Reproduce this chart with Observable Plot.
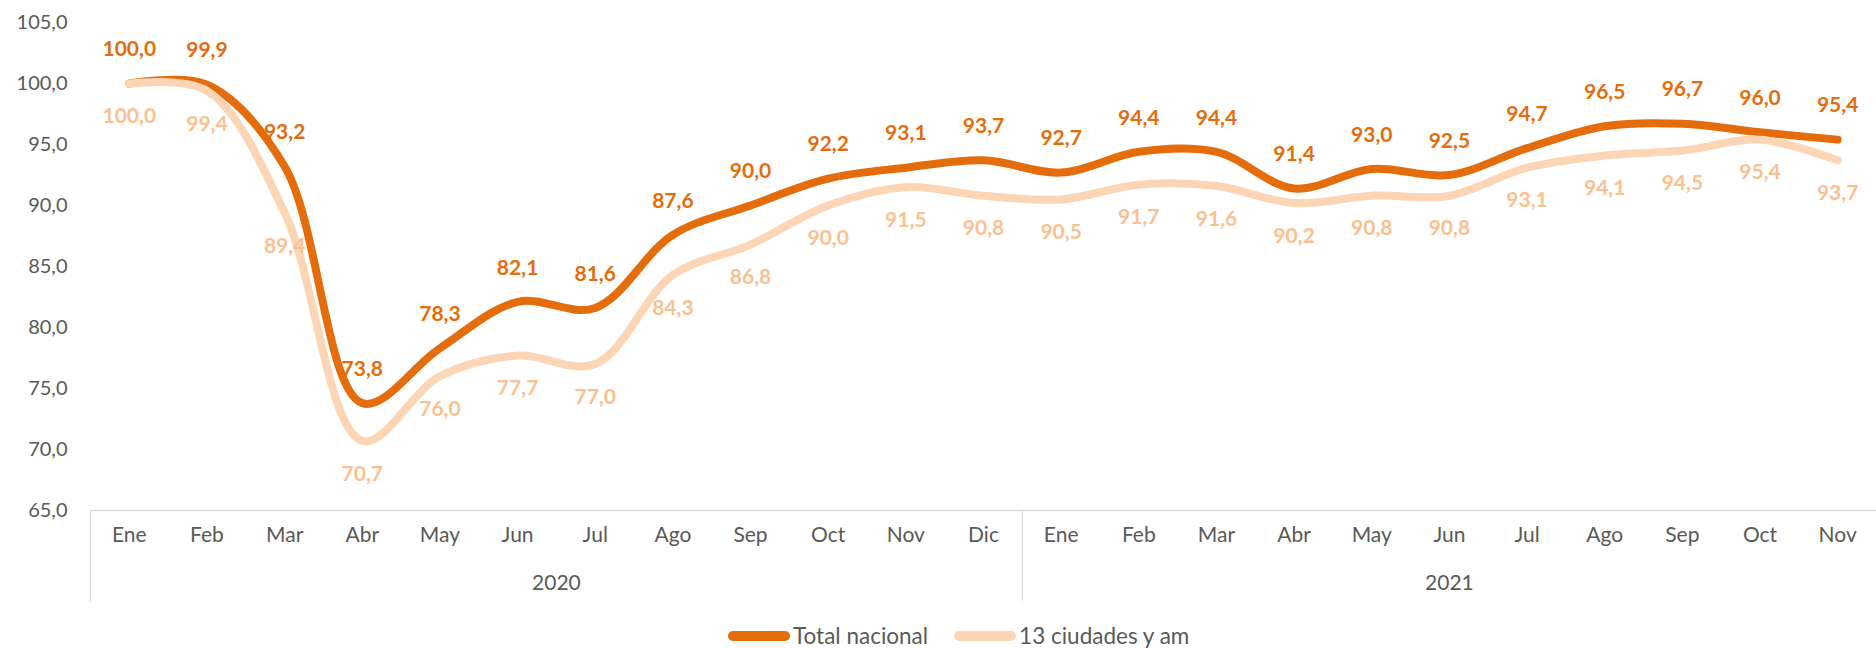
<!DOCTYPE html>
<html>
<head>
<meta charset="utf-8">
<script src="https://cdn.jsdelivr.net/npm/d3@7"></script>
<script src="https://cdn.jsdelivr.net/npm/@observablehq/plot@0.6"></script>
<style>
  html, body { margin: 0; padding: 0; background: #ffffff; }
  body { font-family: Lato, "Open Sans", sans-serif; }
  #wrap { position: relative; width: 1876px; height: 648px; overflow: hidden; }
  #chart svg { display: block; }
  #legend { position: absolute; top: 622px; left: 728px; display: flex; align-items: center; font-size: 22.5px; color: #595959; white-space: nowrap; }
  #legend .item { display: flex; align-items: center; margin-right: 26px; }
  #legend svg { display: block; margin-right: 3px; }
</style>
</head>
<body>
<div id="wrap">
  <div id="chart"></div>
  <div id="legend"></div>
</div>
<script>
// ---- Data ----
const months2020 = ["Ene","Feb","Mar","Abr","May","Jun","Jul","Ago","Sep","Oct","Nov","Dic"];
const months2021 = ["Ene","Feb","Mar","Abr","May","Jun","Jul","Ago","Sep","Oct","Nov"];
const years = ["2020", "2021"];
const totalNacional = [100.0, 99.9, 93.2, 73.8, 78.3, 82.1, 81.6, 87.6, 90.0, 92.2, 93.1, 93.7,
                       92.7, 94.4, 94.4, 91.4, 93.0, 92.5, 94.7, 96.5, 96.7, 96.0, 95.4];
const ciudades13 = [100.0, 99.4, 89.4, 70.7, 76.0, 77.7, 77.0, 84.3, 86.8, 90.0, 91.5, 90.8,
                    90.5, 91.7, 91.6, 90.2, 90.8, 90.8, 93.1, 94.1, 94.5, 95.4, 93.7];
const seriesNames = ["Total nacional", "13 ciudades y am"];
const yTicks = [65, 70, 75, 80, 85, 90, 95, 100, 105];

// ---- Style ----
const darkColor = "#E46C0A";
const lightColor = "#FCD5B5";
const lightLabelColor = "#FAC090";
const textColor = "#595959";
const gridColor = "#D9D9D9";

// ---- Derived tables ----
const months = months2020.concat(months2021);
const n = months.length;
const rows = months.map((m, i) => ({ i, m, total: totalNacional[i], ciud: ciudades13[i] }));
const groups = [months2020, months2021];
let start = 0;
const yearRows = [];
const separators = [];
groups.forEach((g, k) => {
  separators.push(start - 0.5);
  yearRows.push({ year: years[k], c: start + (g.length - 1) / 2 });
  start += g.length;
});
const yMin = yTicks[0], yMax = yTicks[yTicks.length - 1];
const yStep = yTicks[1] - yTicks[0];
const fmt = v => v.toFixed(1).replace(".", ",");

const W = 1876, H = 616;
const chart = Plot.plot({
  width: W,
  height: H,
  marginLeft: 90,
  marginRight: 0,
  marginTop: 22,
  marginBottom: 106,
  style: { fontFamily: "Lato, 'Open Sans', sans-serif", background: "#ffffff" },
  x: { domain: [-0.5, n - 0.5], axis: null },
  y: { domain: [yMin, yMax], axis: null },
  marks: [
    Plot.axisY({ ticks: yTicks, tickFormat: fmt, tickSize: 0, tickPadding: 23, fontSize: 20, color: textColor }),
    Plot.ruleY([yMin], { stroke: gridColor, strokeWidth: 1.5 }),
    Plot.ruleX(separators, { x: d => d, y1: yMin, y2: yMin - 1.5 * yStep, stroke: gridColor, strokeWidth: 1 }),
    Plot.text(rows, { x: "i", text: "m", frameAnchor: "bottom", dy: 31, fontSize: 21, fill: textColor }),
    Plot.text(yearRows, { x: "c", text: "year", frameAnchor: "bottom", dy: 79, fontSize: 21, fill: textColor }),
    Plot.line(rows, { x: "i", y: "total", stroke: darkColor, strokeWidth: 8, curve: "catmull-rom", strokeLinecap: "round", strokeLinejoin: "round" }),
    Plot.line(rows, { x: "i", y: "ciud", stroke: lightColor, strokeWidth: 8, curve: "catmull-rom", strokeLinecap: "round", strokeLinejoin: "round" }),
    Plot.text(rows, { x: "i", y: "total", text: d => fmt(d.total), dy: -34, fontSize: 21, fontWeight: "bold", fill: darkColor }),
    Plot.text(rows, { x: "i", y: "ciud", text: d => fmt(d.ciud), dy: 33, fontSize: 21, fontWeight: "bold", fill: lightLabelColor })
  ]
});
document.getElementById("chart").appendChild(chart);

// ---- Legend ----
const legend = document.getElementById("legend");
[[seriesNames[0], darkColor], [seriesNames[1], lightColor]].forEach(([name, color]) => {
  const item = document.createElement("div");
  item.className = "item";
  item.innerHTML = `<svg width="62" height="14"><line x1="5" y1="7" x2="57" y2="7" stroke="${color}" stroke-width="10" stroke-linecap="round"/></svg><span>${name}</span>`;
  legend.appendChild(item);
});
</script>
</body>
</html>
